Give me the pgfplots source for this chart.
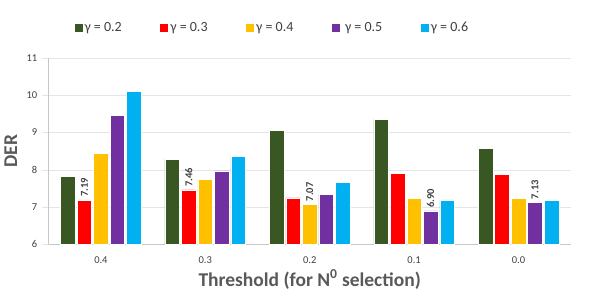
\documentclass[border=0pt]{standalone}
\usepackage{fontspec}
\setmainfont{Carlito}
\usepackage{pgfplots}
\pgfplotsset{compat=1.18}
\definecolor{cg}{HTML}{385723}
\definecolor{cr}{HTML}{FF0000}
\definecolor{cy}{HTML}{FFC000}
\definecolor{cp}{HTML}{7030A0}
\definecolor{cb}{HTML}{00B0F0}
\definecolor{tg}{HTML}{595959}
\definecolor{td}{HTML}{404040}
\begin{document}
\begin{tikzpicture}
\begin{axis}[
  scale only axis, width=522pt, height=186.4pt,
  xmin=-0.5, xmax=4.5, ymin=6, ymax=11,
  ytick={6,7,8,9,10,11},
  xtick={0,1,2,3,4}, xticklabels={0.4,0.3,0.2,0.1,0.0},
  axis x line*=bottom, axis y line*=left,
  x axis line style={draw=black!22, line width=1.2pt},
  y axis line style={draw=black!22, line width=0.6pt},
  ymajorgrids, grid style={draw=black!10, line width=0.6pt},
  xtick style={draw=none},
  ytick style={draw=black!10, line width=0.6pt},
  tick align=outside, major tick length=7pt,
  /pgf/number format/assume math mode=true,
  tick label style={font=\fontsize{10.5}{12}\selectfont, text=td},
  yticklabel style={xshift=-1pt},
  xticklabel style={yshift=-2pt},
  xlabel={Threshold (for N\textsuperscript{0} selection)},
  ylabel={DER},
  label style={font=\fontsize{19.5}{22}\selectfont\bfseries, text=tg},
  xlabel style={at={(axis description cs:0.5,0)}, anchor=base, yshift=-42pt},
  ylabel style={at={(axis description cs:0,0.5)}, anchor=center, yshift=38pt},
  ybar, bar width=0.14,
  legend columns=-1,
  legend style={at={(rel axis cs:0.427,1.164)}, anchor=center, draw=none,
    font=\fontsize{14}{16}\selectfont, text=td,
    /tikz/every even column/.append style={column sep=36pt},
    nodes={inner sep=1.5pt}},
  legend image code/.code={\fill[#1] (0pt,-4.5pt) rectangle (9pt,4.5pt);},
  every node near coord/.append style={rotate=90, anchor=west, inner sep=3pt, font=\fontsize{10.5}{11}\selectfont\bfseries, text=td},
]
\addplot[fill=cg, draw=white, line width=0.5pt, bar shift=-0.316] coordinates {(0,7.82) (1,8.29) (2,9.06) (3,9.36) (4,8.57)};
\addplot[fill=cr, draw=white, line width=0.5pt, bar shift=-0.158] coordinates {(0,7.19) (1,7.46) (2,7.25) (3,7.90) (4,7.88)};
\addplot[fill=cy, draw=white, line width=0.5pt, bar shift=0] coordinates {(0,8.45) (1,7.75) (2,7.07) (3,7.23) (4,7.24)};
\addplot[fill=cp, draw=white, line width=0.5pt, bar shift=0.158] coordinates {(0,9.46) (1,7.97) (2,7.34) (3,6.90) (4,7.13)};
\addplot[fill=cb, draw=white, line width=0.5pt, bar shift=0.316] coordinates {(0,10.11) (1,8.37) (2,7.66) (3,7.19) (4,7.19)};
\legend{γ = 0.2, γ = 0.3, γ = 0.4, \ γ = 0.5, γ = 0.6}
\addplot[forget plot, draw=none, fill=none, bar shift=-0.158, nodes near coords, /pgf/number format/.cd, fixed, fixed zerofill, precision=2, assume math mode=true] coordinates {(0,7.19) (1,7.46)};
\addplot[forget plot, draw=none, fill=none, bar shift=0, nodes near coords, /pgf/number format/.cd, fixed, fixed zerofill, precision=2, assume math mode=true] coordinates {(2,7.07)};
\addplot[forget plot, draw=none, fill=none, bar shift=0.158, nodes near coords, /pgf/number format/.cd, fixed, fixed zerofill, precision=2, assume math mode=true] coordinates {(3,6.90) (4,7.13)};
\end{axis}
\pgfresetboundingbox
\path[use as bounding box] (-48.7pt,-57.6pt) rectangle (549.3pt,244.4pt);
\end{tikzpicture}
\end{document}
